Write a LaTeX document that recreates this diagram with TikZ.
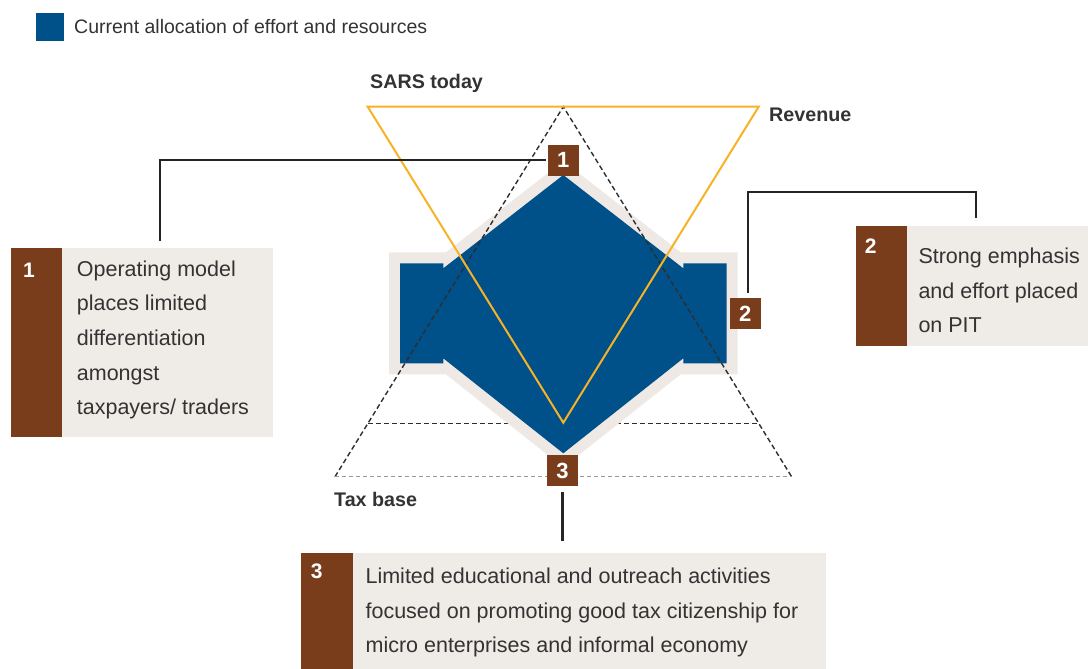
\documentclass[tikz,border=0pt]{standalone}
\usepackage{fontspec}
\setmainfont{Liberation Sans}
\usepackage{xcolor}
\usetikzlibrary{arrows.meta, positioning, calc}

\definecolor{sarsblue}{RGB}{0,80,138}
\definecolor{sarsbrown}{RGB}{122,61,28}
\definecolor{panelgrey}{RGB}{239,235,231}
\definecolor{halogrey}{RGB}{238,233,228}
\definecolor{sarsgold}{RGB}{247,178,38}
\definecolor{ink}{RGB}{51,51,51}

\begin{document}
\begin{tikzpicture}[x=1pt, y=-1pt,
		tag/.style={fill=sarsbrown, text=white, minimum size=31pt, inner sep=0pt,
			font=\fontsize{22}{22}\selectfont\bfseries},
		panel/.style={fill=panelgrey, inner sep=0pt, anchor=north west},
		calltext/.style={anchor=north west, inner sep=0pt, align=left, text=ink,
			font=\fontsize{21.5}{34.7}\selectfont},
		callnum/.style={text=white, inner sep=0pt, font=\fontsize{21}{22}\selectfont\bfseries},
		axislabel/.style={anchor=base west, inner sep=0pt, text=ink,
			font=\fontsize{19.7}{20}\selectfont\bfseries},
		lead/.style={draw=ink!70!black, line width=1.8pt},
		guide/.style={draw=ink!90!black, line width=1.4pt, dash pattern=on 5pt off 3pt}]
	\useasboundingbox (0,0) rectangle (1088,669);

	% legend
	\node[fill=sarsblue, minimum size=28pt, inner sep=0pt, anchor=north west] (key) at (36,13.3) {};
	\node[anchor=base west, inner sep=0pt, text=ink, font=\fontsize{19.5}{20}\selectfont]
		(keytext) at (74,33.3) {Current allocation of effort and resources};

	% the inner tier line sits under the allocation shape, so it has to go first
	\draw[guide] (367.9,423.3) -- (758.7,423.3);

	% allocation shape: a diamond with two side blocks, the pale rim is just
	% a fat stroke laid down before the fill
	\fill[sarsblue, preaction={draw=halogrey, line width=22pt, line join=miter}]
		(563.3,175) -- (683.3,268.3) -- (683.3,263.3) -- (726.6,263.3)
		-- (726.6,363.3) -- (683.3,363.3) -- (683.3,358.3) -- (563.3,453.3)
		-- (443.3,358.3) -- (443.3,363.3) -- (400,363.3) -- (400,263.3)
		-- (443.3,263.3) -- (443.3,268.3) -- cycle;

	% taxpayer pyramid, base is lighter
	\draw[guide] (335,476.7) -- (563.3,106.7) -- (791.6,476.7);
	\draw[guide, draw=black!40, dash pattern=on 4pt off 3pt] (335,476.7) -- (791.6,476.7);

	% revenue triangle
	\draw[sarsgold, line width=2pt, line join=miter] (367.7,106.7) -- (758.7,106.7) -- (563.3,422.7) -- cycle;

	\node[axislabel] (today) at (370,88.3) {SARS today};
	\node[axislabel] (revenue) at (769,121.7) {Revenue};
	\node[axislabel] (taxbase) at (334,506.7) {Tax base};

	% callout panels
	\node[panel, minimum width=261.7pt, minimum height=189pt] (call1) at (11,247.7) {};
	\fill[sarsbrown] (call1.north west) rectangle ++(51.3,189);
	\node[callnum] (num1) at (29,270.3) {1};
	\node[calltext] (text1) at (76.7,260.4) {Operating model\\places limited\\differentiation\\amongst\\taxpayers/ traders};

	\node[panel, minimum width=232.3pt, minimum height=119.7pt] (call2) at (855.7,226) {};
	\fill[sarsbrown] (call2.north west) rectangle ++(51.6,119.7);
	\node[callnum] (num2) at (870.7,245.8) {2};
	\node[calltext] (text2) at (918.3,247.7) {Strong emphasis\\and effort placed\\on PIT};

	\node[panel, minimum width=525.5pt, minimum height=116.3pt] (call3) at (300.5,552.7) {};
	\fill[sarsbrown] (call3.north west) rectangle ++(52.2,116.3);
	\node[callnum] (num3) at (316.7,570.8) {3};
	\node[calltext] (text3) at (365.4,567.7) {Limited educational and outreach activities\\focused on promoting good tax citizenship for\\micro enterprises and informal economy};

	% number tags on the shape
	\node[tag] (tag1) at (563.3,160) {1};
	\node[tag] (tag2) at (745.3,313.5) {2};
	\node[tag] (tag3) at (562.5,470.8) {3};

	% leader lines, each stops a few px short of its panel
	\coordinate (c1) at (160,240.7);
	\coordinate (k2) at (976,191.7);
	\coordinate (c2) at (976,218.3);
	\coordinate (c3) at (562.5,540.7);
	\draw[lead] ([xshift=-2pt]tag1.west) -| (c1);
	\draw[lead] ([xshift=3pt, yshift=5pt]tag2.north) |- (k2) -- (c2);
	\draw[lead, draw=black!85, line width=3.5pt] ([yshift=-5pt]tag3.south) -- (c3);
\end{tikzpicture}
\end{document}
